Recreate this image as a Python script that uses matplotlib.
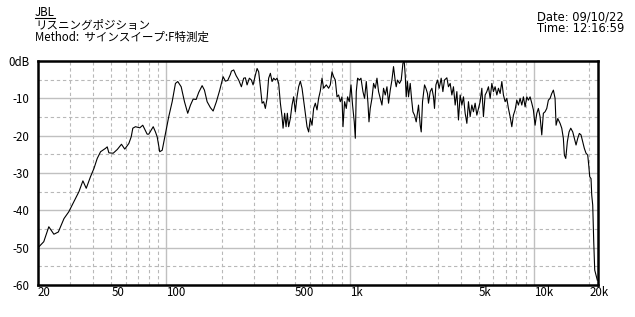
"""
Frequency response plot (listening position, sine sweep).
"""

import matplotlib as mpl

mpl.use("Agg")

import matplotlib.pyplot as plt
from matplotlib.lines import Line2D
from matplotlib.ticker import FixedLocator, NullFormatter

plt.rcParams["font.family"] = ["Noto Sans CJK JP", "DejaVu Sans"]

TITLE = "JBL"
SUBTITLE = "リスニングポジション"
METHOD = "Method:  サインスイープ:F特測定"
DATE = "Date: 09/10/22"
TIME = "Time: 12:16:59"

X_LIMITS = (20.15, 22270)
Y_LIMITS = (-60, 0)
X_TICKS = [20, 50, 100, 500, 1000, 5000, 10000, 20000]
X_TICK_LABELS = ["20", "50", "100", "500", "1k", "5k", "10k", "20k"]
X_MAJOR_GRID = [100, 1000, 10000]
X_MINOR_GRID = [30, 40, 50, 60, 70, 80, 90,
                200, 300, 400, 500, 600, 700, 800, 900,
                2000, 3000, 4000, 5000, 6000, 7000, 8000, 9000, 20000]
Y_TICKS = [0, -10, -20, -30, -40, -50, -60]
Y_TICK_LABELS = ["0dB", "-10", "-20", "-30", "-40", "-50", "-60"]
Y_MINOR_GRID = [-5, -15, -25, -35, -45, -55]

freq_hz = [
    20.2, 21.5, 22.9, 24.4, 25.8, 27.7, 29.4, 32.0, 33.4, 35.1,
    36.6, 38.6, 40.3, 42.0, 43.8, 46.6, 47.6, 48.6, 51.3, 54.0,
    56.9, 59.3, 62.4, 64.3, 65.6, 67.8, 71.6, 74.3, 78.5, 80.1,
    84.7, 87.1, 89.0, 91.9, 94.8, 98.8, 102.9, 107.4, 111.9, 115.2,
    120.2, 125.3, 130.5, 135.1, 139.7, 145.0, 149.8, 156.3, 160.9, 166.4,
    173.4, 179.4, 186.9, 194.9, 203.3, 209.2, 215.4, 222.7, 225.6, 232.2,
    239.2, 247.1, 255.6, 263.1, 268.7, 274.5, 282.5, 289.7, 295.9, 304.5,
    311.1, 317.4, 324.2, 331.2, 337.9, 345.1, 352.6, 359.7, 367.5, 375.4,
    383.0, 391.2, 399.6, 407.7, 416.5, 425.4, 430.8, 439.5, 447.3, 454.6,
    462.0, 471.9, 482.1, 491.8, 502.5, 513.2, 523.6, 534.9, 546.4, 557.5,
    569.4, 581.7, 593.5, 606.3, 619.3, 631.8, 645.4, 659.2, 672.6, 687.1,
    701.8, 716.0, 740.6, 762.3, 778.6, 795.3, 811.4, 828.9, 846.7, 863.8,
    882.4, 901.4, 912.7, 931.2, 951.2, 966.7, 987.6, 1009, 1029, 1051,
    1065, 1078, 1096, 1123, 1143, 1172, 1196, 1222, 1248, 1264,
    1284, 1312, 1339, 1368, 1397, 1425, 1455, 1487, 1517, 1550,
    1583, 1615, 1650, 1685, 1719, 1757, 1778, 1807, 1853, 1893,
    1934, 1966, 1990, 2015, 2048, 2074, 2119, 2154, 2192, 2236,
    2284, 2351, 2401, 2432, 2472, 2535, 2579, 2631, 2664, 2721,
    2780, 2836, 2872, 2923, 2982, 3046, 3123, 3190, 3254, 3353,
    3421, 3495, 3570, 3642, 3721, 3801, 3878, 3961, 4047, 4129,
    4217, 4308, 4395, 4489, 4585, 4678, 4778, 4881, 4980, 5087,
    5197, 5302, 5416, 5532, 5645, 5767, 5891, 6010, 6138, 6271,
    6398, 6535, 6676, 6811, 6957, 7106, 7250, 7406, 7565, 7718,
    7884, 8054, 8217, 8394, 8575, 8748, 8937, 9129, 9311, 9512,
    9716, 9913, 10125, 10344, 10553, 10779, 11010, 11233, 11475, 11722,
    11959, 12218, 12480, 12733, 13006, 13172, 13454, 13847, 14143, 14429,
    14612, 14870, 15171, 15496, 15831, 16230, 16558, 16916, 17278, 17628,
    18005, 18394, 18766, 19167, 19578, 19828, 20076, 20407, 20587, 20845,
    21110, 21374, 21727, 22080,
]
level_db = [
    -49.8, -48.4, -44.4, -46.4, -45.8, -42.2, -40.4, -36.8, -35.0, -32.1,
    -34.1, -31.0, -28.8, -26.1, -24.3, -23.4, -23.0, -24.6, -24.7, -23.7,
    -22.3, -23.6, -22.1, -20.3, -18.0, -17.6, -17.9, -17.2, -19.6, -19.6,
    -17.6, -19.0, -20.3, -24.3, -23.9, -19.4, -14.9, -10.9, -6.0, -5.5,
    -6.9, -10.9, -14.0, -11.8, -10.2, -10.3, -8.4, -6.6, -7.8, -10.9,
    -12.5, -13.4, -10.9, -7.8, -4.2, -5.4, -5.2, -3.6, -2.7, -2.4,
    -3.9, -5.1, -6.9, -4.6, -4.5, -6.4, -4.6, -5.1, -6.4, -3.8,
    -2.0, -2.9, -6.9, -11.3, -10.9, -12.7, -10.0, -4.6, -3.3, -5.5,
    -4.6, -5.1, -4.6, -6.0, -11.3, -14.9, -18.0, -14.0, -17.6, -14.0,
    -17.6, -15.4, -11.8, -9.6, -13.6, -9.6, -6.9, -5.4, -7.3, -10.5,
    -14.0, -17.6, -19.0, -15.4, -17.2, -12.7, -11.3, -13.1, -10.0, -8.0,
    -4.6, -7.3, -6.4, -7.3, -6.4, -2.9, -4.2, -5.1, -9.6, -9.1,
    -10.9, -9.6, -17.6, -10.9, -12.7, -9.6, -10.9, -6.4, -11.8, -16.3,
    -20.7, -8.2, -4.6, -5.1, -4.6, -8.2, -10.0, -5.5, -11.3, -16.3,
    -12.7, -10.0, -6.0, -7.3, -4.6, -8.2, -10.0, -11.8, -7.3, -9.1,
    -6.9, -11.3, -7.8, -5.1, -1.5, -5.5, -6.9, -5.1, -6.0, -5.1,
    -0.6, -0.2, -3.8, -9.6, -5.5, -9.6, -6.0, -10.0, -13.6, -14.5,
    -16.3, -11.8, -17.2, -19.0, -10.9, -6.4, -7.3, -8.7, -11.3, -8.2,
    -7.3, -9.6, -12.7, -6.4, -5.1, -7.3, -4.6, -8.2, -5.1, -4.5,
    -6.9, -6.0, -9.1, -6.9, -11.8, -8.2, -15.8, -9.1, -11.8, -9.6,
    -14.0, -16.7, -10.9, -14.9, -11.8, -13.6, -11.3, -14.5, -12.7, -10.9,
    -7.3, -14.9, -9.1, -8.2, -6.9, -10.0, -6.0, -8.2, -6.9, -9.1,
    -7.3, -8.7, -5.5, -9.1, -10.9, -10.0, -12.7, -14.9, -17.6, -14.5,
    -13.1, -10.5, -11.8, -10.0, -11.8, -9.6, -12.3, -9.6, -10.5, -9.6,
    -11.3, -13.1, -17.2, -14.0, -12.7, -14.9, -19.8, -14.0, -13.6, -12.7,
    -10.5, -10.0, -8.7, -7.8, -10.0, -17.2, -15.4, -16.7, -18.0, -20.7,
    -25.2, -26.1, -21.6, -19.0, -18.0, -19.0, -20.7, -22.5, -20.7, -19.4,
    -19.8, -21.6, -23.4, -24.7, -25.2, -27.9, -31.0, -31.5, -35.9, -38.6,
    -48.4, -56.0, -57.4, -58.7,
]

GRID_COLOR = "#c0c0c0"
DASH_COLOR = "#b8b8b8"
FONT_SIZE = 8.3


def draw_grid(ax):
    for f in X_MAJOR_GRID:
        ax.axvline(f, color=GRID_COLOR, lw=1.0, zorder=1)
    for f in X_MINOR_GRID:
        ax.axvline(f, color=DASH_COLOR, lw=0.8, ls=(0, (3, 2.5)), zorder=1)
    for y in Y_TICKS[1:-1]:
        ax.axhline(y, color=GRID_COLOR, lw=1.0, zorder=1)
    for y in Y_MINOR_GRID:
        ax.axhline(y, color=DASH_COLOR, lw=0.8, ls=(0, (3, 2.5)), zorder=1)


def main():
    fig = plt.figure(figsize=(6.35, 3.17), dpi=100)
    ax = fig.add_axes([38 / 635, 1 - 285 / 317, 560 / 635, 224 / 317])
    ax.set_xscale("log")
    ax.set_xlim(*X_LIMITS)
    ax.set_ylim(*Y_LIMITS)

    draw_grid(ax)
    ax.plot(freq_hz, level_db, color="black", lw=0.8, zorder=3)

    ax.xaxis.set_major_locator(FixedLocator(X_TICKS))
    ax.xaxis.set_minor_locator(FixedLocator([]))
    ax.xaxis.set_minor_formatter(NullFormatter())
    ax.set_xticks(X_TICKS, X_TICK_LABELS)
    ax.set_yticks(Y_TICKS, Y_TICK_LABELS)
    ax.tick_params(length=0, labelsize=FONT_SIZE, pad=1)
    ax.tick_params(axis="y", pad=6)
    for label in ax.get_xticklabels():
        label.set_horizontalalignment("left")

    for spine in ax.spines.values():
        spine.set_linewidth(1.8)
        spine.set_color("black")
        spine.set_zorder(4)

    title = fig.text(35 / 635, 1 - 12 / 317, TITLE, fontsize=FONT_SIZE, va="center")
    fig.text(35 / 635, 1 - 25 / 317, SUBTITLE, fontsize=FONT_SIZE, va="center")
    fig.text(35 / 635, 1 - 37 / 317, METHOD, fontsize=FONT_SIZE, va="center")
    # date and time as one two-line block so the lines sit close together
    fig.text(537 / 635, 1 - 10 / 317, DATE + "\n" + TIME, fontsize=FONT_SIZE,
             va="top", linespacing=0.95, family="DejaVu Sans")

    # underline the title just below its glyphs
    fig.canvas.draw()
    bbox = title.get_window_extent().transformed(fig.transFigure.inverted())
    under_y = 1 - 17.5 / 317
    fig.add_artist(Line2D([bbox.x0, bbox.x1], [under_y, under_y],
                          color="black", lw=0.8, transform=fig.transFigure))

    fig.savefig("out.png", dpi=100)
    plt.close(fig)


if __name__ == "__main__":
    main()
